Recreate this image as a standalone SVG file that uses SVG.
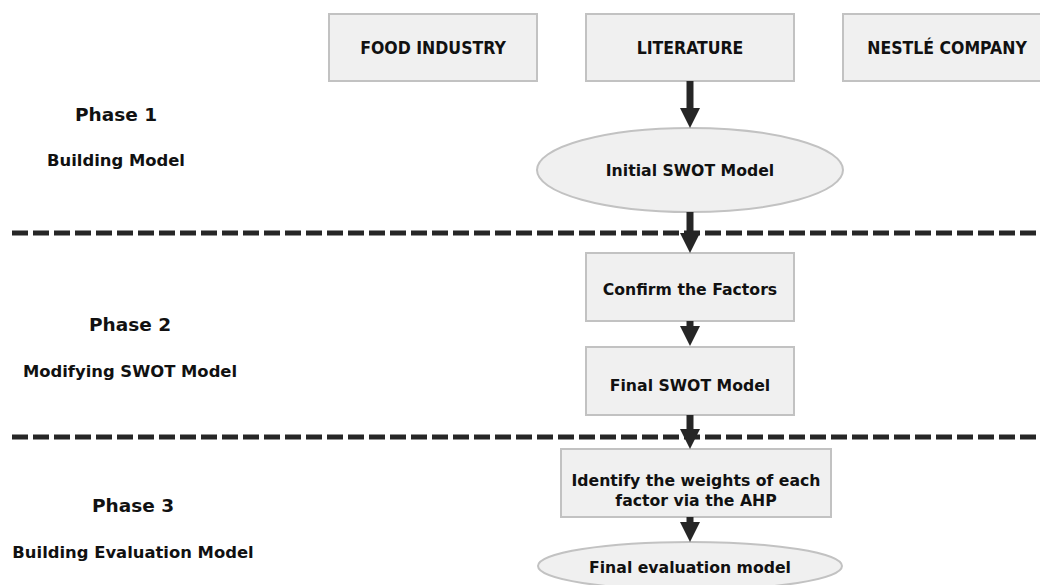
<svg xmlns="http://www.w3.org/2000/svg" width="1040" height="585" viewBox="0 0 1040 585">
<defs>
<style>
.box{fill:#f0f0f0;stroke:#c2c2c2;stroke-width:2}
.t{font-family:"DejaVu Sans",Verdana,sans-serif;font-weight:bold;fill:#111;text-anchor:middle;dominant-baseline:central}
.n{font-size:15.7px}
.top{font-family:"DejaVu Sans Condensed","DejaVu Sans",sans-serif;font-stretch:condensed;font-size:17.5px}
.ph{font-size:18.5px}
.sub{font-size:16.4px}
.arr{stroke:#262626;stroke-width:7;fill:none}
.dash{stroke:#262626;stroke-width:5;stroke-dasharray:16 5;fill:none}
</style>
<marker id="ah" viewBox="0 0 20 20" refX="0" refY="10" markerWidth="20" markerHeight="20" markerUnits="userSpaceOnUse" orient="auto">
<path d="M0,0 L20,10 L0,20 z" fill="#262626"/>
</marker>
</defs>
<rect width="1040" height="585" fill="#ffffff"/>

<g id="phase1">
<text class="t ph" x="116" y="114">Phase 1</text>
<text class="t sub" x="116" y="160">Building Model</text>
</g>
<g id="phase2">
<text class="t ph" x="130" y="324">Phase 2</text>
<text class="t sub" x="130" y="371">Modifying SWOT Model</text>
</g>
<g id="phase3">
<text class="t ph" x="133" y="505">Phase 3</text>
<text class="t sub" x="133" y="552">Building Evaluation Model</text>
</g>

<g id="food-industry">
<rect class="box" x="329" y="14" width="208" height="67"/>
<text class="t top" x="433" y="48">FOOD INDUSTRY</text>
</g>
<g id="literature">
<rect class="box" x="586" y="14" width="208" height="67"/>
<text class="t top" x="690" y="48">LITERATURE</text>
</g>
<g id="nestle-company">
<rect class="box" x="843" y="14" width="208" height="67"/>
<text class="t top" x="947" y="48">NESTLÉ COMPANY</text>
</g>

<g id="initial-swot">
<ellipse class="box" cx="690" cy="170" rx="153" ry="42"/>
<text class="t n" x="690" y="170">Initial SWOT Model</text>
</g>
<g id="confirm-factors">
<rect class="box" x="586" y="253" width="208" height="68"/>
<text class="t n" x="690" y="289">Confirm the Factors</text>
</g>
<g id="final-swot">
<rect class="box" x="586" y="347" width="208" height="68"/>
<text class="t n" x="690" y="385">Final SWOT Model</text>
</g>
<g id="identify-weights">
<rect class="box" x="561" y="449" width="270" height="68"/>
<text class="t n" x="696" y="480">Identify the weights of each</text>
<text class="t n" x="696" y="500">factor via the AHP</text>
</g>
<g id="final-evaluation">
<ellipse class="box" cx="690" cy="566" rx="152" ry="24"/>
<text class="t n" x="690" y="567">Final evaluation model</text>
</g>

<g id="phase-separators">
<line class="dash" x1="12" y1="233" x2="1040" y2="233"/>
<line class="dash" x1="12" y1="437" x2="1040" y2="437"/>
</g>

<g id="connectors">
<line class="arr" x1="690" y1="81" x2="690" y2="108" marker-end="url(#ah)"/>
<line class="arr" x1="690" y1="212" x2="690" y2="233" marker-end="url(#ah)"/>
<line class="arr" x1="690" y1="321" x2="690" y2="326" marker-end="url(#ah)"/>
<line class="arr" x1="690" y1="415" x2="690" y2="429" marker-end="url(#ah)"/>
<line class="arr" x1="690" y1="517" x2="690" y2="522" marker-end="url(#ah)"/>
</g>
</svg>
